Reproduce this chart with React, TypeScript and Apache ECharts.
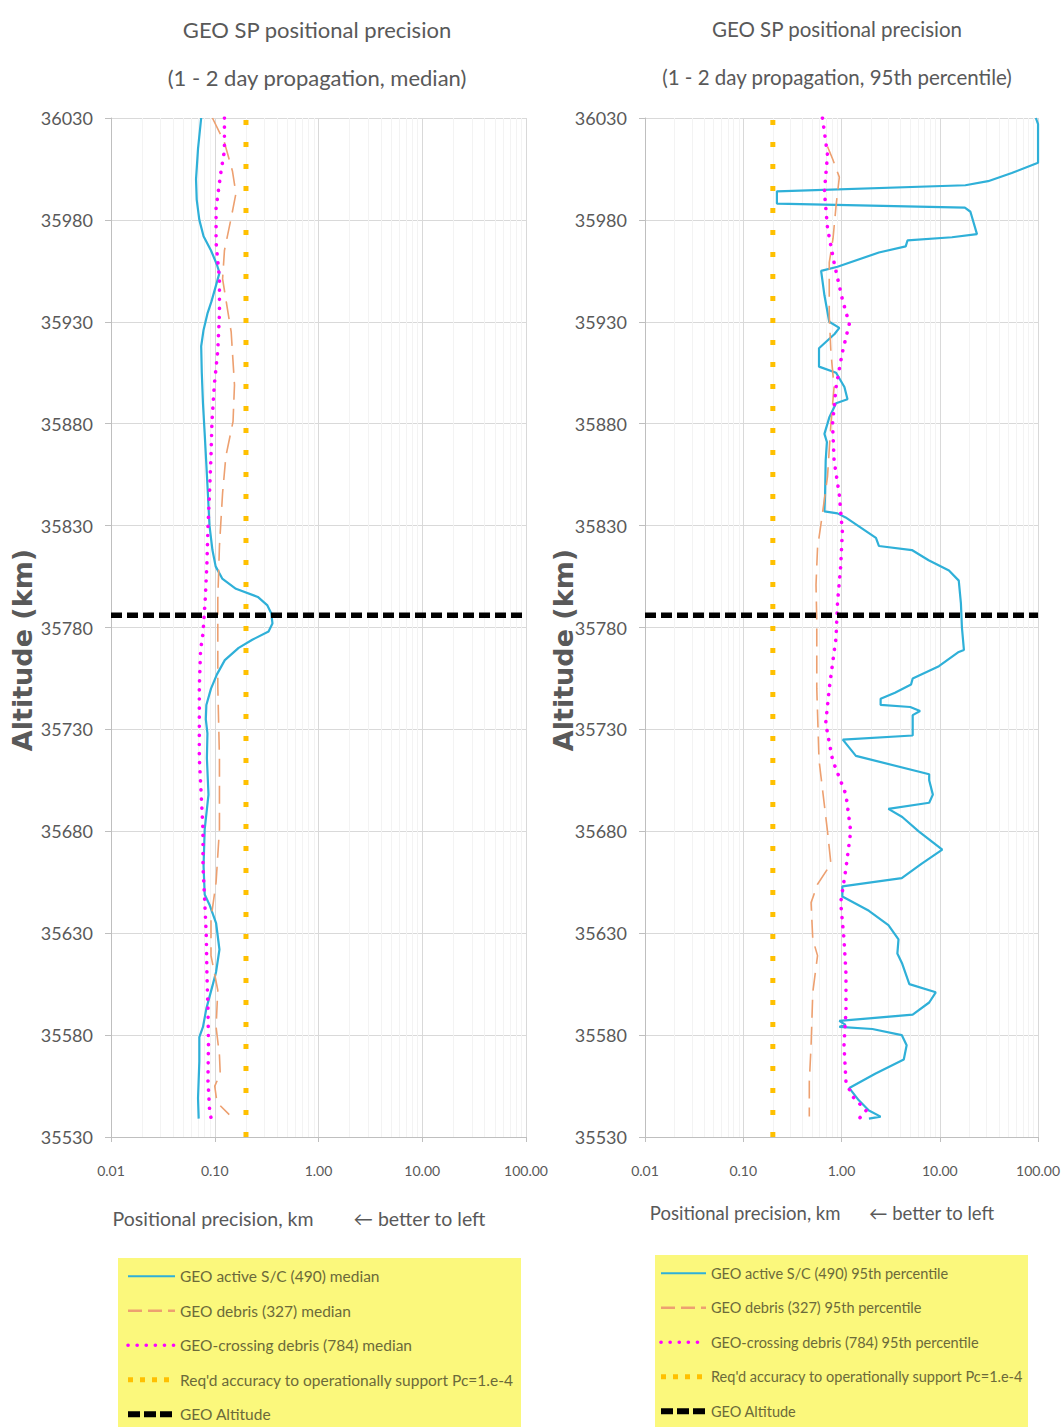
import React, { useEffect, useRef } from "react";
import * as echarts from "echarts";

// ---------- data: [altitude km, positional precision km] ----------
const ALT_BASE = 35530;
const ALT_TOP = 36030;
const ALT_STEP = 50;
const GEO_ALTITUDE = 35786;
const REQ_ACCURACY = 0.2;
const X_MIN = 0.01;
const X_MAX = 100;
const MINOR_X = [0.02, 0.03, 0.04, 0.05, 0.06, 0.07, 0.08, 0.09, 0.2, 0.3, 0.4, 0.5, 0.6, 0.7, 0.8, 0.9, 2, 3, 4, 5, 6, 7, 8, 9, 20, 30, 40, 50, 60, 70, 80, 90];

const activeMedian: [number, number][] = [
  [36030, 0.074], [36015, 0.069], [36000, 0.066], [35990, 0.067], [35980, 0.071], [35972, 0.078], [35965, 0.092],
  [35958, 0.105], [35954, 0.111], [35948, 0.103], [35940, 0.093], [35934, 0.085], [35926, 0.078], [35918, 0.074],
  [35905, 0.075], [35890, 0.077], [35875, 0.08], [35860, 0.083], [35845, 0.086], [35830, 0.089], [35818, 0.095],
  [35810, 0.102], [35804, 0.118], [35799, 0.16], [35795, 0.26], [35791, 0.32], [35787, 0.35], [35782, 0.36],
  [35778, 0.33], [35774, 0.23], [35770, 0.17], [35764, 0.125], [35757, 0.105], [35750, 0.092], [35742, 0.083],
  [35735, 0.082], [35728, 0.085], [35716, 0.084], [35698, 0.087], [35681, 0.08], [35663, 0.078], [35649, 0.08],
  [35644, 0.089], [35635, 0.103], [35622, 0.111], [35611, 0.103], [35605, 0.096], [35593, 0.083], [35584, 0.077],
  [35579, 0.071], [35567, 0.071], [35549, 0.069], [35539, 0.07],
];
const debrisMedian: [number, number][] = [
  [36030, 0.095], [36018, 0.124], [36004, 0.148], [35993, 0.16], [35981, 0.144], [35965, 0.124], [35951, 0.119],
  [35941, 0.128], [35925, 0.144], [35899, 0.155], [35881, 0.15], [35864, 0.128], [35846, 0.119], [35820, 0.111],
  [35794, 0.107], [35777, 0.107], [35751, 0.107], [35716, 0.111], [35681, 0.111], [35655, 0.103], [35637, 0.092],
  [35619, 0.092], [35602, 0.107], [35584, 0.103], [35570, 0.111], [35561, 0.113], [35555, 0.1], [35547, 0.105],
  [35541, 0.138],
];
const crossingMedian: [number, number][] = [
  [36030, 0.124], [36014, 0.124], [36004, 0.115], [35986, 0.103], [35969, 0.103], [35951, 0.111], [35934, 0.111],
  [35916, 0.107], [35899, 0.099], [35881, 0.094], [35864, 0.092], [35846, 0.089], [35829, 0.086], [35811, 0.084],
  [35794, 0.081], [35777, 0.077], [35769, 0.073], [35751, 0.071], [35734, 0.071], [35716, 0.071], [35698, 0.074],
  [35681, 0.077], [35663, 0.077], [35646, 0.08], [35628, 0.083], [35611, 0.084], [35593, 0.086], [35576, 0.087],
  [35558, 0.086], [35544, 0.089], [35538, 0.093],
];

const active95: [number, number][] = [
  [36030, 95], [36027, 100], [36008, 100], [36003, 54], [35999, 31], [35997, 18.2], [35994, 0.22], [35988, 0.22],
  [35986, 18], [35984, 20.5], [35973, 23.9], [35971.5, 13.3], [35970, 4.7], [35967, 4.5], [35964, 2.4], [35957, 0.91],
  [35955, 0.62], [35943, 0.67], [35930, 0.75], [35927, 0.95], [35924, 0.85], [35917, 0.59], [35908, 0.59],
  [35905, 0.88], [35898, 1.07], [35892, 1.15], [35890, 0.88], [35883, 0.75], [35875, 0.67], [35871, 0.71],
  [35862, 0.69], [35845, 0.68], [35837, 0.67], [35836, 0.91], [35834, 1.1], [35824, 2.24], [35820, 2.4],
  [35818, 5.2], [35813, 7.7], [35808, 12.4], [35803, 15.6], [35792, 16.4], [35780, 16.8], [35769, 17.6],
  [35768, 15.6], [35761, 9.8], [35755, 5.3], [35752, 5.1], [35748, 3.5], [35745, 2.5], [35742, 2.5], [35741, 5.0],
  [35739, 6.3], [35737, 5.3], [35727, 5.3], [35725, 1.03], [35717, 1.4], [35708, 7.8], [35705, 7.8], [35698, 8.5],
  [35694, 7.8], [35691, 3.0], [35687, 4.15], [35680, 6.1], [35671, 10.6], [35664, 6.5], [35657, 4.1], [35653, 1.02],
  [35648, 1.02], [35641, 1.9], [35634, 3.0], [35627, 3.8], [35620, 3.7], [35615, 4.15], [35605, 4.9], [35601, 9.1],
  [35596, 7.8], [35590, 5.3], [35587, 0.95], [35585, 1.1], [35584, 0.95], [35583, 2.06], [35580, 4.1], [35575, 4.6],
  [35568, 4.3], [35561, 2.2], [35554, 1.2], [35548, 1.5], [35543, 1.9], [35540, 2.5], [35539, 1.9],
];
const debris95: [number, number][] = [
  [36016, 0.72], [36010, 0.81], [36001, 0.95], [35987, 0.88], [35971, 0.82], [35959, 0.75], [35933, 0.75],
  [35915, 0.78], [35898, 0.84], [35880, 0.78], [35854, 0.72], [35836, 0.64], [35819, 0.57], [35801, 0.55],
  [35783, 0.56], [35767, 0.56], [35750, 0.56], [35715, 0.59], [35680, 0.72], [35664, 0.78], [35654, 0.57],
  [35645, 0.49], [35627, 0.51], [35619, 0.57], [35601, 0.51], [35575, 0.49], [35557, 0.47], [35540, 0.47],
];
const crossing95: [number, number][] = [
  [36030, 0.64], [36012, 0.72], [35994, 0.67], [35976, 0.72], [35959, 0.84], [35941, 1.02], [35929, 1.2],
  [35915, 1.02], [35898, 0.88], [35880, 0.81], [35862, 0.84], [35845, 0.95], [35827, 1.02], [35810, 0.98],
  [35792, 0.91], [35775, 0.88], [35768, 0.84], [35750, 0.75], [35733, 0.69], [35715, 0.81], [35698, 1.11],
  [35680, 1.24], [35662, 1.11], [35645, 0.98], [35627, 1.06], [35610, 1.11], [35592, 1.11], [35575, 1.06],
  [35557, 1.11], [35550, 1.29], [35543, 1.78], [35538, 1.45],
];

const NAMES_LEFT = [
  "GEO active S/C (490) median",
  "GEO debris (327) median",
  "GEO-crossing debris (784) median",
];
const NAMES_RIGHT = [
  "GEO active S/C (490) 95th percentile",
  "GEO debris (327) 95th percentile",
  "GEO-crossing debris (784) 95th percentile",
];
const NAME_REQ = "Req'd accuracy to operationally support Pc=1.e-4";
const NAME_GEO = "GEO Altitude";
const TITLES = [
  "GEO SP positional precision\n(1 - 2 day propagation, median)",
  "GEO SP positional precision\n(1 - 2 day propagation, 95th percentile)",
];
const X_NAMES = [
  "Positional precision, km        \u2190 better to left",
  "Positional precision, km      \u2190 better to left",
];
const Y_NAME = "Altitude (km)";

// ---------- styles ----------
const FONT = 'Lato, "Liberation Sans", sans-serif';
const GRAY = "#595959";
const C_ACTIVE = "#2FB0D8";
const C_DEBRIS = "#EDA070";
const C_CROSS = "#FF00FF";
const C_REQ = "#FFC000";
const C_GEO = "#000000";
const LEGEND_BG = "#FBF87C";
const LEGEND_TEXT = "#6b6a3a";

const GRIDS = [
  {
    left: 111, top: 118, width: 415, height: 1019,
    titleX: 312, titleSize: 22,
    xNameX: 299, xNameY: 1218, xNameSize: 19.5,
    yNameX: 22,
    legendBox: [118, 1258, 403, 175], legendPos: [125, 1266], legendSize: 15.5, legendIconW: 47,
  },
  {
    left: 645, top: 118, width: 395, height: 1019,
    titleX: 832, titleSize: 20.5,
    xNameX: 822, xNameY: 1213, xNameSize: 18.5,
    yNameX: 563,
    legendBox: [655, 1255, 373, 175], legendPos: [658, 1263], legendSize: 14.5, legendIconW: 45,
  },
];

const toXY = (d: [number, number][]) => d.map(([alt, v]) => [v, alt - ALT_BASE]);

function styleActive() { return { color: C_ACTIVE, width: 2.2, type: "solid" as const }; }
function styleDebris() { return { color: C_DEBRIS, width: 1.6, type: [18, 9] }; }
function styleCross() { return { color: C_CROSS, width: 3.6, type: [0.1, 9], cap: "round" as const }; }
function styleReq() { return { color: C_REQ, width: 5, type: [5, 17] }; }
function styleGeo() { return { color: C_GEO, width: 5.5, type: [11, 5] }; }

function buildOption() {
  const grid = GRIDS.map((g) => ({ left: g.left, top: g.top, width: g.width, height: g.height, containLabel: false }));
  const xAxis = GRIDS.map((_, i) => ({
    type: "log",
    logBase: 10,
    gridIndex: i,
    min: X_MIN,
    max: X_MAX,
    axisLine: { show: true, lineStyle: { color: "#bfbfbf", width: 1 } },
    axisTick: { show: true, length: 5, lineStyle: { color: "#bfbfbf" } },
    axisLabel: {
      color: GRAY,
      fontFamily: FONT,
      fontSize: 14,
      margin: 26,
      formatter: (v: number) => v.toFixed(2),
    },
    splitLine: { show: true, lineStyle: { color: "#d9d9d9", width: 1 } },
  }));
  const yAxis = GRIDS.map((_, i) => ({
    type: "value",
    gridIndex: i,
    min: 0,
    max: ALT_TOP - ALT_BASE,
    interval: ALT_STEP,
    axisLine: { show: true, lineStyle: { color: "#bfbfbf", width: 1 } },
    axisTick: { show: true, length: 6, lineStyle: { color: "#bfbfbf" } },
    axisLabel: {
      color: GRAY,
      fontFamily: FONT,
      fontSize: 18,
      margin: 18,
      formatter: (v: number) => String(v + ALT_BASE),
    },
    splitLine: { show: true, lineStyle: { color: "#d9d9d9", width: 1 } },
  }));

  const series: any[] = [];
  const panels = [
    { names: NAMES_LEFT, a: activeMedian, d: debrisMedian, c: crossingMedian },
    { names: NAMES_RIGHT, a: active95, d: debris95, c: crossing95 },
  ];
  panels.forEach((p, i) => {
    const base = { type: "line", xAxisIndex: i, yAxisIndex: i, symbol: "none", silent: true, smooth: false, animation: false };
    series.push({
      ...base,
      name: "minor-grid-" + i,
      data: [],
      z: 1,
      markLine: {
        silent: true,
        z: 1,
        symbol: ["none", "none"],
        label: { show: false },
        lineStyle: { color: "#f3f3f3", width: 1, type: "solid" },
        data: MINOR_X.map((x) => ({ xAxis: x })),
        animation: false,
      },
    });
    series.push({ ...base, name: p.names[0], data: toXY(p.a), lineStyle: styleActive(), itemStyle: { color: C_ACTIVE }, z: 3 });
    series.push({ ...base, name: p.names[1], data: toXY(p.d), lineStyle: styleDebris(), itemStyle: { color: C_DEBRIS }, z: 4 });
    series.push({ ...base, name: p.names[2], data: toXY(p.c), lineStyle: styleCross(), itemStyle: { color: C_CROSS }, z: 5 });
    series.push({
      ...base,
      name: NAME_REQ,
      data: toXY([[ALT_BASE, REQ_ACCURACY], [ALT_TOP, REQ_ACCURACY]]),
      lineStyle: styleReq(),
      itemStyle: { color: C_REQ },
      z: 6,
    });
    series.push({
      ...base,
      name: NAME_GEO,
      data: [[X_MIN, GEO_ALTITUDE - ALT_BASE], [X_MAX, GEO_ALTITUDE - ALT_BASE]],
      lineStyle: styleGeo(),
      itemStyle: { color: C_GEO },
      z: 7,
    });
  });

  const legend = panels.map((p, i) => ({
    orient: "vertical",
    left: GRIDS[i].legendPos[0],
    top: GRIDS[i].legendPos[1],
    padding: 0,
    itemWidth: GRIDS[i].legendIconW,
    itemHeight: 12,
    itemGap: 14,
    itemTextGap: 3,
    selectedMode: false,
    z: 10,
    itemStyle: { opacity: 0 },
    lineStyle: { width: "inherit" },
    textStyle: { fontFamily: FONT, fontSize: GRIDS[i].legendSize, lineHeight: 20.5, color: LEGEND_TEXT },
    data: [
      { name: p.names[0] },
      { name: p.names[1], lineStyle: { type: [14, 6], width: 2.5 } },
      { name: p.names[2] },
      { name: NAME_REQ, lineStyle: { type: [5, 7], width: 5 } },
      { name: NAME_GEO, lineStyle: { type: [12, 4], width: 6 } },
    ],
  }));

  const title = TITLES.map((t, i) => ({
    text: t,
    left: GRIDS[i].titleX,
    top: 0,
    textAlign: "center",
    textStyle: { fontFamily: FONT, fontSize: GRIDS[i].titleSize, fontWeight: "normal", color: GRAY, lineHeight: 48 },
  }));

  const graphic: any[] = [];
  GRIDS.forEach((g, i) => {
    graphic.push({
      type: "rect",
      shape: { x: g.legendBox[0], y: g.legendBox[1], width: g.legendBox[2], height: g.legendBox[3] },
      style: { fill: LEGEND_BG },
      z: 0,
      silent: true,
    });
    graphic.push({
      type: "text",
      x: g.xNameX,
      y: g.xNameY,
      style: { text: X_NAMES[i], font: `${g.xNameSize}px ${FONT}`, fill: GRAY, align: "center", verticalAlign: "middle" },
      silent: true,
    });
    graphic.push({
      type: "text",
      x: g.yNameX,
      y: 650,
      rotation: Math.PI / 2,
      style: { text: Y_NAME, font: `bold 27px "DejaVu Sans", sans-serif`, fill: GRAY, align: "center", verticalAlign: "middle" },
      silent: true,
    });
  });

  return {
    animation: false,
    backgroundColor: "#ffffff",
    title,
    legend,
    grid,
    xAxis,
    yAxis,
    series,
    graphic,
  };
}

export default function App() {
  const ref = useRef<HTMLDivElement>(null);
  useEffect(() => {
    if (!ref.current) return;
    const chart = echarts.init(ref.current, undefined, { renderer: "svg" });
    chart.setOption(buildOption() as any);
    return () => chart.dispose();
  }, []);
  return (
    <div
      ref={ref}
      style={{ position: "absolute", left: 0, top: 0, width: 1063, height: 1427 }}
    />
  );
}
